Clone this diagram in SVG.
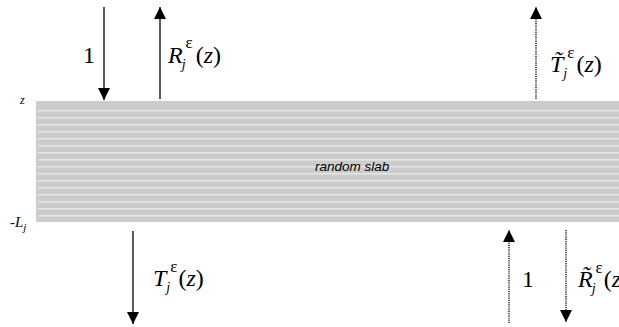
<svg xmlns="http://www.w3.org/2000/svg" width="619" height="327" viewBox="0 0 619 327">
<style>
.m{font-family:"Liberation Serif","Times New Roman",serif;font-size:24px;fill:#000}
.i{font-style:italic}
.n{font-style:normal}
.s{font-size:14px}
.e{font-size:17px;font-style:normal}
.ar{stroke:#000;stroke-width:1.3;fill:none}
.dot{stroke-dasharray:1.2 1}
.sl{stroke:#e6e6e6;stroke-width:1.4}
</style>
<defs>
<marker id="ah" viewBox="0 0 12 12" refX="12" refY="6" markerWidth="12" markerHeight="12" markerUnits="userSpaceOnUse" orient="auto">
<path d="M0,0 L12,6 L0,12 z" fill="#000"/>
</marker>
</defs>
<g id="slab">
<rect x="36" y="101" width="583" height="121" fill="#cccccc"/>
<g>
<line class="sl" x1="38" x2="619" y1="110.7" y2="110.7"/>
<line class="sl" x1="38" x2="619" y1="117.7" y2="117.7"/>
<line class="sl" x1="38" x2="619" y1="124.7" y2="124.7"/>
<line class="sl" x1="38" x2="619" y1="131.7" y2="131.7"/>
<line class="sl" x1="38" x2="619" y1="138.7" y2="138.7"/>
<line class="sl" x1="38" x2="619" y1="145.7" y2="145.7"/>
<line class="sl" x1="38" x2="619" y1="152.7" y2="152.7"/>
<line class="sl" x1="38" x2="619" y1="159.7" y2="159.7"/>
<line class="sl" x1="38" x2="619" y1="166.7" y2="166.7"/>
<line class="sl" x1="38" x2="619" y1="173.7" y2="173.7"/>
<line class="sl" x1="38" x2="619" y1="180.7" y2="180.7"/>
<line class="sl" x1="38" x2="619" y1="187.7" y2="187.7"/>
<line class="sl" x1="38" x2="619" y1="194.7" y2="194.7"/>
<line class="sl" x1="38" x2="619" y1="201.7" y2="201.7"/>
<line class="sl" x1="38" x2="619" y1="208.7" y2="208.7"/>
<line class="sl" x1="38" x2="619" y1="215.7" y2="215.7"/>
</g>
<text x="315" y="171" font-family="Liberation Sans, Arial, sans-serif" font-size="13.5" font-style="italic">random slab</text>
<text x="20" y="104" class="m i" style="font-size:12px">z</text>
<text x="10" y="227" class="m" style="font-size:15px">-<tspan class="i">L</tspan><tspan class="i" style="font-size:11px" dy="4">j</tspan></text>
</g>
<g id="connectors">
<line class="ar" x1="104" y1="7" x2="104" y2="100" marker-end="url(#ah)"/>
<line class="ar" x1="160" y1="99" x2="160" y2="7" marker-end="url(#ah)"/>
<line class="ar dot" x1="536" y1="99" x2="536" y2="7" marker-end="url(#ah)"/>
<line class="ar" x1="133" y1="231" x2="133" y2="324" marker-end="url(#ah)"/>
<line class="ar dot" x1="509" y1="323" x2="509" y2="230" marker-end="url(#ah)"/>
<line class="ar dot" x1="566" y1="230" x2="566" y2="322" marker-end="url(#ah)"/>
</g>
<g id="label-1-top"><text x="83" y="63" class="m">1</text></g>
<g id="label-R">
<text x="168" y="63" class="m i">R<tspan class="s" dx="-1" dy="6">j</tspan><tspan class="e" dy="-21">ε</tspan><tspan class="n" dx="3" dy="15">(</tspan>z<tspan class="n">)</tspan></text>
</g>
<g id="label-Tt">
<text x="550" y="72" class="m i">T̃<tspan class="s" dx="0" dy="6">j</tspan><tspan class="e" dx="0" dy="-20">ε</tspan><tspan class="n" dx="2" dy="14">(</tspan>z<tspan class="n">)</tspan></text>
</g>
<g id="label-T">
<text x="153" y="286" class="m i">T<tspan class="s" dx="0" dy="6">j</tspan><tspan class="e" dx="0" dy="-20">ε</tspan><tspan class="n" dx="1" dy="14">(</tspan>z<tspan class="n">)</tspan></text>
</g>
<g id="label-1-bot"><text x="522" y="287" class="m">1</text></g>
<g id="label-Rt">
<text x="578" y="287" class="m i">R̃<tspan class="s" dx="-1" dy="6">j</tspan><tspan class="e" dy="-20">ε</tspan><tspan class="n" dx="1" dy="14">(</tspan>z</text>
</g>
</svg>
